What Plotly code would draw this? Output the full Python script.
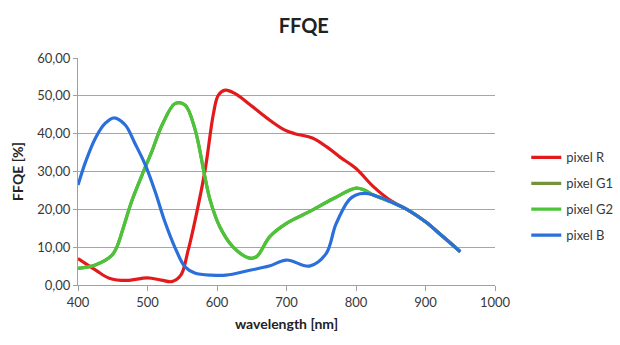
import plotly.graph_objects as go

wl_r = [400, 425, 445, 470, 500, 520, 535, 548, 558, 568, 583, 595, 602, 612, 625, 648, 672, 697, 712, 738, 758, 777, 800, 825, 850, 875, 900, 925, 950]
pixel_r = [7.0, 4.0, 1.8, 1.2, 1.9, 1.3, 0.9, 2.6, 8.8, 16.7, 30.5, 45.4, 50.2, 51.5, 50.7, 47.6, 44.1, 41.0, 40.0, 38.8, 36.5, 33.8, 30.8, 26.0, 22.3, 19.8, 16.7, 12.8, 8.8]

wl_g = [400, 425, 449, 456, 465, 477, 492, 506, 521, 540, 554, 568, 583, 590, 604, 623, 647, 657, 676, 700, 733, 767, 800, 812, 825, 850, 875, 900, 925, 950]
pixel_g1 = [4.4, 5.3, 7.9, 10.1, 15.0, 22.0, 29.0, 35.2, 42.3, 48.0, 47.6, 41.4, 28.2, 22.5, 15.4, 10.1, 7.1, 7.5, 12.8, 16.3, 19.4, 22.8, 25.6, 25.1, 23.8, 22.0, 19.8, 16.7, 12.8, 8.8]
pixel_g2 = [4.4, 5.3, 7.9, 10.1, 15.0, 22.0, 29.0, 35.2, 42.3, 48.0, 47.6, 41.4, 28.2, 22.5, 15.4, 10.1, 7.1, 7.5, 12.8, 16.3, 19.4, 22.8, 25.6, 25.1, 23.8, 22.0, 19.8, 16.7, 12.8, 8.8]

wl_b = [400, 411, 425, 439, 452, 468, 482, 497, 511, 525, 540, 554, 568, 592, 613, 647, 675, 700, 733, 757, 771, 790, 800, 812, 825, 850, 875, 900, 925, 950]
pixel_b = [26.4, 32.6, 38.8, 42.7, 44.2, 42.3, 37.4, 31.7, 24.7, 16.7, 9.7, 4.8, 3.2, 2.6, 2.6, 3.9, 5.0, 6.6, 5.0, 8.3, 16.0, 22.5, 23.8, 24.2, 23.8, 22.0, 19.8, 16.7, 12.8, 8.8]

FONT = "Lato, 'Open Sans', sans-serif"

fig = go.Figure()
series = [
    ("pixel R", wl_r, pixel_r, "#E31A1C"),
    ("pixel G1", wl_g, pixel_g1, "#76923C"),
    ("pixel G2", wl_g, pixel_g2, "#4CC43A"),
    ("pixel B", wl_b, pixel_b, "#2A6FDB"),
]
for name, x, y, c in series:
    fig.add_trace(go.Scatter(x=x, y=y, name=name, mode="lines", legendgroup=name,
                             line=dict(color=c, width=3.2, shape="spline", smoothing=1.0)))

fig.update_layout(
    width=620, height=345,
    margin=dict(l=78, r=125, t=58, b=60, autoexpand=False),
    paper_bgcolor="white", plot_bgcolor="white",
    separators=",.",
    font=dict(family=FONT, size=13, color="#383838"),
    title=dict(text="<b>FFQE</b>", x=0.49, xanchor="center", y=0.925, yanchor="middle",
               font=dict(family=FONT, size=20, color="#222222")),
    xaxis=dict(range=[400, 1000], dtick=100, tick0=400, showgrid=False,
               showline=True, linecolor="#A0A0A0", linewidth=1,
               ticks="outside", tickcolor="#A0A0A0", ticklen=5,
               title=dict(text="<b>wavelength [nm]</b>", font=dict(size=14, color="#222222"), standoff=10),
               zeroline=False),
    yaxis=dict(range=[0, 60], dtick=10, tickformat=".2f", showgrid=True,
               gridcolor="#A6A6A6", gridwidth=1,
               showline=True, linecolor="#A0A0A0", linewidth=1,
               ticks="outside", tickcolor="#A0A0A0", ticklen=4,
               title=dict(text="<b>FFQE [%]</b>", font=dict(size=14, color="#222222"), standoff=10),
               zeroline=False),
    legend=dict(x=1.075, xanchor="left", y=0.39, yanchor="middle",
                font=dict(size=13, color="#383838"), tracegroupgap=6, itemwidth=30),
    showlegend=True,
)

fig.write_html("out.html")
